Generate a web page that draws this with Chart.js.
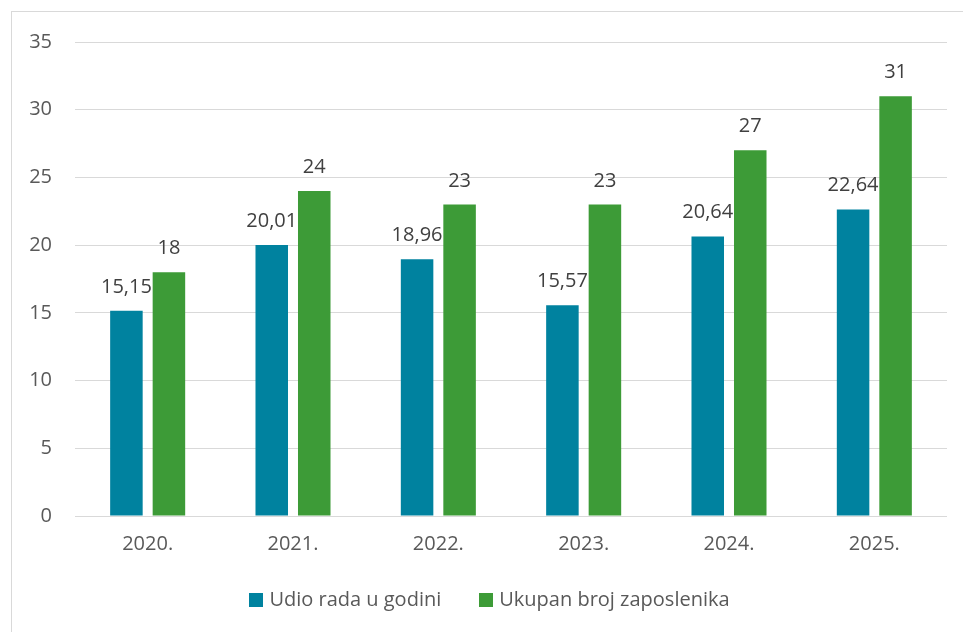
<!DOCTYPE html>
<html>
<head>
<meta charset="utf-8">
<script src="https://cdn.jsdelivr.net/npm/chart.js@4"></script>
<style>
    html, body { margin: 0; padding: 0; background: #fff; overflow: hidden; }
    #frame {
        position: absolute; left: 11px; top: 11px;
        width: 980px; height: 660px;
        border: 1.5px solid #d9d9d9;
    }
    #wrap { position: absolute; left: 0; top: 0; width: 963px; height: 632px; }
    #legend {
        position: absolute; left: 8px; top: 585px; width: 963px;
        text-align: center; font-family: "Open Sans", sans-serif; font-size: 20px; color: #595959;
    }
    #legend span.item { display: inline-block; margin: 0 19px; }
    #legend span.box { display: inline-block; width: 14px; height: 14px; margin-right: 6px; vertical-align: -1px; }
</style>
</head>
<body>
<div id="frame"></div>
<div id="wrap"><canvas id="chart" width="963" height="632"></canvas></div>
<div id="legend"></div>
<script>
// Podaci
var godine = ['2020.', '2021.', '2022.', '2023.', '2024.', '2025.'];
var udioRada = [15.15, 20.01, 18.96, 15.57, 20.64, 22.64];
var brojZaposlenika = [18, 24, 23, 23, 27, 31];
var nazivi = ['Udio rada u godini', 'Ukupan broj zaposlenika'];
var boje = ['#00829f', '#3d9b37'];

document.addEventListener('DOMContentLoaded', function() {
    var ctx = document.getElementById('chart').getContext('2d');
    var font = "'Open Sans', sans-serif";

    // Oznake vrijednosti iznad stupaca
    var dataLabels = {
        id: 'dataLabels',
        afterDatasetsDraw: function(chart) {
            var c = chart.ctx;
            c.save();
            c.font = '20px ' + font;
            c.fillStyle = '#404040';
            c.textAlign = 'center';
            c.textBaseline = 'alphabetic';
            chart.data.datasets.forEach(function(ds, i) {
                chart.getDatasetMeta(i).data.forEach(function(bar, j) {
                    var v = ds.data[j];
                    var txt = i === 0 ? v.toFixed(2).replace('.', ',') : String(v);
                    c.fillText(txt, bar.x, bar.y - 18);
                });
            });
            c.restore();
        }
    };

    new Chart(ctx, {
        type: 'bar',
        data: {
            labels: godine,
            datasets: [{
                label: nazivi[0],
                data: udioRada,
                backgroundColor: boje[0],
                categoryPercentage: 0.585,
                barPercentage: 0.765
            }, {
                label: nazivi[1],
                data: brojZaposlenika,
                backgroundColor: boje[1],
                categoryPercentage: 0.585,
                barPercentage: 0.765
            }]
        },
        options: {
            responsive: false,
            animation: false,
            layout: { padding: { left: 0, top: 42, right: 16, bottom: 76 } },
            plugins: {
                legend: { display: false },
                tooltip: { enabled: false }
            },
            scales: {
                x: {
                    grid: { display: false, drawTicks: false },
                    border: { display: false },
                    ticks: { color: '#595959', font: { family: font, size: 20 }, padding: 16 },
                    afterFit: function(s) { s.height = 40; }
                },
                y: {
                    min: 0,
                    max: 35,
                    grid: { color: '#d9d9d9', lineWidth: 1, drawTicks: false },
                    border: { display: false },
                    ticks: { stepSize: 5, color: '#595959', font: { family: font, size: 20 }, padding: 23 },
                    afterFit: function(s) { s.width = 75; }
                }
            }
        },
        plugins: [dataLabels]
    });

    // Legenda
    var legend = document.getElementById('legend');
    nazivi.forEach(function(n, i) {
        var item = document.createElement('span');
        item.className = 'item';
        item.innerHTML = '<span class="box" style="background:' + boje[i] + '"></span>' + n;
        legend.appendChild(item);
    });
});
</script>
</body>
</html>
